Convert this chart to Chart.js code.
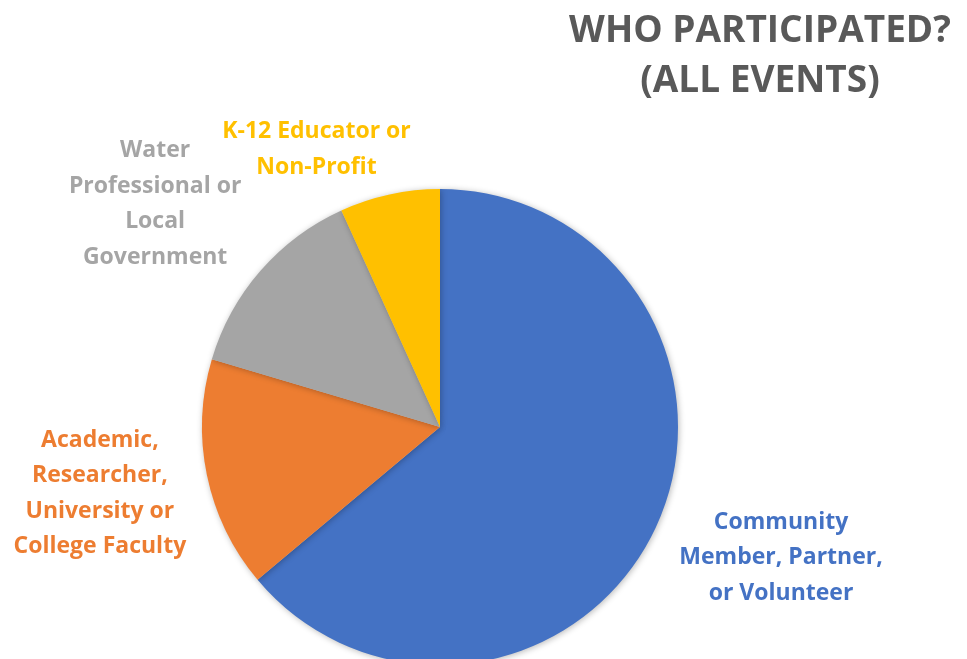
<!DOCTYPE html>
<html>
<head>
<meta charset="utf-8">
<title>Who participated?</title>
<script src="https://cdn.jsdelivr.net/npm/chart.js@4.4.1/dist/chart.umd.min.js"></script>
<style>
    html, body { margin: 0; padding: 0; background: #fff; overflow: hidden; }
    #wrap { position: relative; width: 967px; height: 680px; }
</style>
</head>
<body>
<div id="wrap"><canvas id="whoChart" width="967" height="680"></canvas></div>
<script>
// participant groups, clockwise from 12 o'clock
const groups = ['Community Member, Partner, or Volunteer', 'Academic, Researcher, University or College Faculty', 'Water Professional or Local Government', 'K-12 Educator or Non-Profit'];
const shares = [63.9, 15.7, 13.6, 6.8];
const groupLines = [
    ['Community', 'Member, Partner,', 'or Volunteer'],
    ['Academic,', 'Researcher,', 'University or', 'College Faculty'],
    ['Water', 'Professional or', 'Local', 'Government'],
    ['K-12 Educator or', 'Non-Profit']
];
const groupColors = ['#4472C4', '#ED7D31', '#A5A5A5', '#FFC000'];
const titleLines = ['WHO PARTICIPATED?', '(ALL EVENTS)'];

// where each text block sits, as multiples of the pie radius from its centre
// (x = middle of the block, y = first baseline)
const labelAnchors = [[1.433, 0.428], [-1.429, 0.084], [-1.197, -1.134], [-0.519, -1.214]];

const FONT = '"Open Sans", "Noto Sans", sans-serif';

const pieShadow = {
    id: 'pieShadow',
    beforeDatasetsDraw(chart) {
        const ctx = chart.ctx;
        ctx.save();
        ctx.shadowColor = 'rgba(0,0,0,0.28)';
        ctx.shadowBlur = 6;
        ctx.shadowOffsetX = 1;
        ctx.shadowOffsetY = 1;
    },
    afterDatasetsDraw(chart) {
        chart.ctx.restore();
    }
};

const groupLabels = {
    id: 'groupLabels',
    afterDraw(chart) {
        const ctx = chart.ctx;
        const arc = chart.getDatasetMeta(0).data[0];
        const cx = arc.x, cy = arc.y, r = arc.outerRadius;
        ctx.save();
        ctx.textAlign = 'center';
        ctx.textBaseline = 'alphabetic';
        ctx.font = '700 23px ' + FONT;
        groupLines.forEach((lines, i) => {
            ctx.fillStyle = groupColors[i];
            const x = cx + labelAnchors[i][0] * r;
            const y = cy + labelAnchors[i][1] * r;
            lines.forEach((t, j) => ctx.fillText(t, x, y + j * 35.5));
        });

        // heading, upper right
        ctx.fillStyle = '#595959';
        ctx.font = '700 37px ' + FONT;
        titleLines.forEach((t, j) => ctx.fillText(t, 760, 42 + j * 50));
        ctx.restore();
    }
};

new Chart(document.getElementById('whoChart'), {
    type: 'pie',
    data: {
        labels: groups,
        datasets: [{
            data: shares,
            backgroundColor: groupColors,
            borderWidth: 0,
            hoverOffset: 0
        }]
    },
    options: {
        responsive: false,
        animation: false,
        layout: { padding: { left: 202, right: 289, top: 189, bottom: 15 } },
        plugins: {
            legend: { display: false },
            tooltip: { enabled: false },
            title: { display: false }
        }
    },
    plugins: [pieShadow, groupLabels]
});
</script>
</body>
</html>
